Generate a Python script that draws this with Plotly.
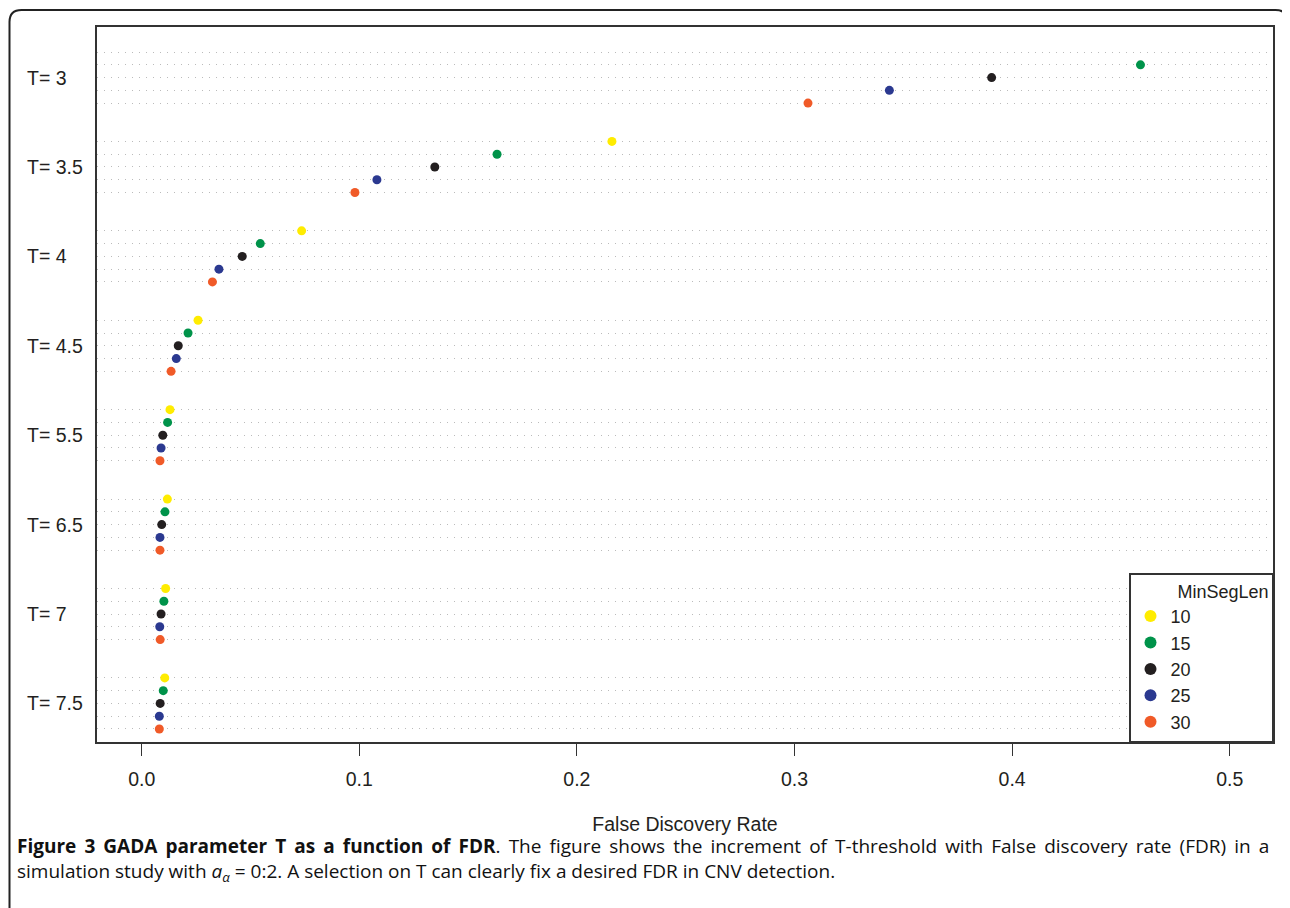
import numpy as np
import plotly.graph_objects as go

# ---------------- data ----------------
thresholds = ["3", "3.5", "4", "4.5", "5.5", "6.5", "7", "7.5"]
minseglen = ["10", "15", "20", "25", "30"]
fdr_10 = [None, 0.2161, 0.0735, 0.0259, 0.0130, 0.0118, 0.0110, 0.0106]
fdr_15 = [0.4590, 0.1633, 0.0545, 0.0213, 0.0119, 0.0107, 0.0102, 0.0099]
fdr_20 = [0.3906, 0.1347, 0.0462, 0.0168, 0.0097, 0.0092, 0.0089, 0.0085]
fdr_25 = [0.3436, 0.1081, 0.0355, 0.0159, 0.0089, 0.0084, 0.0083, 0.0081]
fdr_30 = [0.3062, 0.0980, 0.0325, 0.0135, 0.0084, 0.0084, 0.0085, 0.0081]
x_ticks = [0.0, 0.1, 0.2, 0.3, 0.4, 0.5]
x_ticktext = ["0.0", "0.1", "0.2", "0.3", "0.4", "0.5"]

series = [fdr_10, fdr_15, fdr_20, fdr_25, fdr_30]
colors = ["#FFEC00", "#00934A", "#231F20", "#2B3990", "#F05A28"]

# ---------------- layout geometry ----------------
OFF = 8  # default page body margin
W, H = 1290 - OFF, 908 - OFF
L, T = 97 - OFF, 27 - OFF
R = W - (1273 - OFF)
B = H - (742 - OFF)
PW, PH = W - L - R, H - T - B
GROUP_STEP = len(minseglen) + 2  # two empty rows between groups


def px2paper_x(px):  # px: target screen pixel
    return (px - OFF - L) / PW


def px2paper_y(py):
    return (H - B - (py - OFF)) / PH


font_main = "Liberation Sans, Arial, sans-serif"
txt_col = "#231F20"

fig = go.Figure()
row_pos = []
for si, (name, vals, col) in enumerate(zip(minseglen, series, colors)):
    ys = [gi * GROUP_STEP + si for gi in range(len(thresholds))]
    row_pos.extend(ys)
    fig.add_trace(go.Scatter(
        x=vals, y=ys, mode="markers", name=name,
        marker=dict(color=col, size=9, line=dict(width=0)),
        hoverinfo="x+name",
    ))

row_pos = sorted(row_pos)
n_last = (len(thresholds) - 1) * GROUP_STEP + len(minseglen) - 1

fig.update_layout(
    width=W, height=H,
    margin=dict(l=L, r=R, t=T, b=B),
    paper_bgcolor="white", plot_bgcolor="white",
    font=dict(family=font_main, size=19.5, color=txt_col),
    showlegend=True,
    legend=dict(
        title=dict(text="\u00a0" * 9 + "MinSegLen",
                   font=dict(size=18, family=font_main)),
        x=1, xanchor="right", y=0, yanchor="bottom",
        bgcolor="white", bordercolor="#333333", borderwidth=1.5,
        font=dict(size=18, family=font_main),
        itemsizing="constant", tracegroupgap=0,
    ),
    xaxis=dict(
        range=[-0.02054, 0.5199],
        tickvals=x_ticks, ticktext=x_ticktext,
        ticks="outside", ticklen=12, tickwidth=1.2, tickcolor="#333333",
        ticklabelstandoff=7,
        showgrid=False, zeroline=False,
        showline=True, mirror=True, linecolor="#333333", linewidth=1.5,
        title=dict(text="False Discovery Rate", standoff=28,
                   font=dict(size=19.5, family=font_main)),
    ),
    yaxis=dict(
        range=[n_last + 1.02, -1.96],
        tickvals=row_pos, showticklabels=False, ticks="",
        showgrid=True, gridcolor="#BBBBBB", gridwidth=1, griddash="1px,6px",
        zeroline=False,
        showline=True, mirror=True, linecolor="#333333", linewidth=1.5,
    ),
)

# group labels, left-aligned like the original
for gi, t in enumerate(thresholds):
    fig.add_annotation(
        x=px2paper_x(25), xref="paper", xanchor="left",
        y=gi * GROUP_STEP + (len(minseglen) - 1) / 2, yref="y", yanchor="middle",
        text="T= " + t, showarrow=False,
        font=dict(size=19.5, family=font_main, color=txt_col),
    )

# caption (first line stretched like justified text)
cap_font = "Open Sans, Lato, sans-serif"
line1_bold = "Figure 3 GADA parameter T as a function of FDR"
line1_rest = ". The figure shows the increment of T-threshold with False discovery rate (FDR) in a"
line2 = "simulation study with <i>a</i><sub><i>α</i></sub> = 0:2. A selection on T can clearly fix a desired FDR in CNV detection."
JS = " \u2009"
line1 = "<b>" + line1_bold.replace(" ", JS) + "</b>" + line1_rest.replace(" ", JS)
fig.add_annotation(
    x=px2paper_x(15), xref="paper", xanchor="left",
    y=px2paper_y(860), yref="paper", yanchor="middle",
    text=line1 + "<br>" + line2, align="left",
    showarrow=False, font=dict(size=19, family=cap_font, color="#111111"),
)

# rounded outer frame
x0, x1 = px2paper_x(9.5), px2paper_x(1287.5)
y0, y1 = px2paper_y(10), px2paper_y(940)
rx, ry = 12 / PW, 12 / PH
path = (f"M {x0 + rx},{y0} L {x1 - rx},{y0} Q {x1},{y0} {x1},{y0 - ry} "
        f"L {x1},{y1} L {x0},{y1} L {x0},{y0 - ry} Q {x0},{y0} {x0 + rx},{y0} Z")
fig.add_shape(type="path", path=path, xref="paper", yref="paper",
              line=dict(color="#222222", width=2), layer="below")

fig.write_html("out.html")
